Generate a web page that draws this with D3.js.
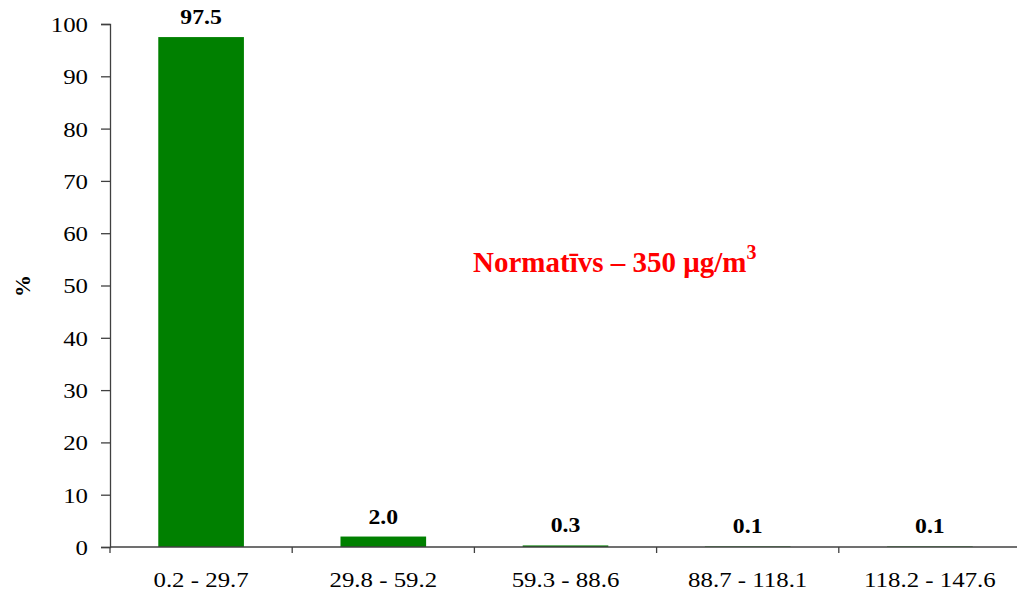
<!DOCTYPE html>
<html><head><meta charset="utf-8">
<script src="https://cdn.jsdelivr.net/npm/d3@7"></script>
<style>
html,body{margin:0;padding:0;background:#fff;}
svg{display:block;font-family:"Liberation Serif","Times New Roman",serif;}
</style></head>
<body>
<svg id="chart" width="1017" height="592"></svg>
<script>
const categories = ["0.2 - 29.7", "29.8 - 59.2", "59.3 - 88.6", "88.7 - 118.1", "118.2 - 147.6"];
const values = [97.5, 2.0, 0.3, 0.1, 0.1];
const valueLabels = ["97.5", "2.0", "0.3", "0.1", "0.1"];
const yTicks = [0, 10, 20, 30, 40, 50, 60, 70, 80, 90, 100];

const svg = d3.select("#chart");
const mLeft = 110, mRight = 1021, mTop = 24, mBottom = 547;
const axisColor = "#404040";
const sx = 1.13;

const x = d3.scaleBand().domain(categories).range([mLeft, mRight]).paddingInner(0.53).paddingOuter(0.265);
const xb = d3.scaleBand().domain(categories).range([mLeft, mRight]).padding(0);
const y = d3.scaleLinear().domain([0, 100]).range([mBottom, mTop]);

// bars
svg.append("g").selectAll("rect").data(values).join("rect")
  .attr("x", (d, i) => x(categories[i]))
  .attr("width", x.bandwidth())
  .attr("y", d => y(d))
  .attr("height", d => y(0) - y(d))
  .attr("fill", "#008000");

// y axis
const yAxis = svg.append("g").attr("transform", `translate(${mLeft},0)`)
  .call(d3.axisLeft(y).tickValues(yTicks).tickSize(9).tickPadding(13).tickFormat(d3.format("d")));
yAxis.select(".domain").attr("stroke", axisColor).attr("stroke-width", 1.3);
yAxis.selectAll(".tick line").attr("stroke", axisColor).attr("stroke-width", 1.3);
yAxis.selectAll(".tick text").attr("font-size", 22).attr("fill", "#000")
  .attr("font-family", "'Liberation Serif','Times New Roman',serif")
  .attr("x", 0).attr("dy", "0.34em")
  .attr("transform", `translate(-22,0) scale(${sx},1)`);

// x axis line
svg.append("line").attr("x1", mLeft).attr("x2", mRight).attr("y1", mBottom).attr("y2", mBottom)
  .attr("stroke", axisColor).attr("stroke-width", 1.3);
// boundary ticks
const bounds = categories.map(c => xb(c)).concat([mRight]);
svg.append("g").selectAll("line").data(bounds).join("line")
  .attr("x1", d => d).attr("x2", d => d).attr("y1", mBottom).attr("y2", mBottom + 6)
  .attr("stroke", axisColor).attr("stroke-width", 1.3);
// category labels
svg.append("g").selectAll("text").data(categories).join("text")
  .attr("transform", d => `translate(${x(d) + x.bandwidth() / 2},587) scale(${sx},1)`)
  .attr("text-anchor", "middle")
  .attr("font-size", 22)
  .attr("fill", "#000")
  .text(d => d);

// value labels
svg.append("g").selectAll("text").data(values).join("text")
  .attr("transform", (d, i) => `translate(${x(categories[i]) + x.bandwidth() / 2},${y(d) - 13}) scale(${sx},1)`)
  .attr("text-anchor", "middle")
  .attr("font-size", 21)
  .attr("font-weight", "bold")
  .attr("fill", "#000")
  .text((d, i) => valueLabels[i]);

// y title
svg.append("text")
  .attr("transform", "translate(30,286) rotate(-90)")
  .attr("text-anchor", "middle")
  .attr("font-size", 22)
  .attr("font-weight", "bold")
  .text("%");

// annotation
const ann = svg.append("text")
  .attr("x", 473).attr("y", 272)
  .attr("font-size", 29)
  .attr("font-weight", "bold")
  .attr("fill", "#ff0000");
ann.append("tspan").text("Normatīvs – 350 μg/m");
ann.append("tspan").attr("font-size", 20).attr("dy", -13).text("3");
</script>
</body></html>
